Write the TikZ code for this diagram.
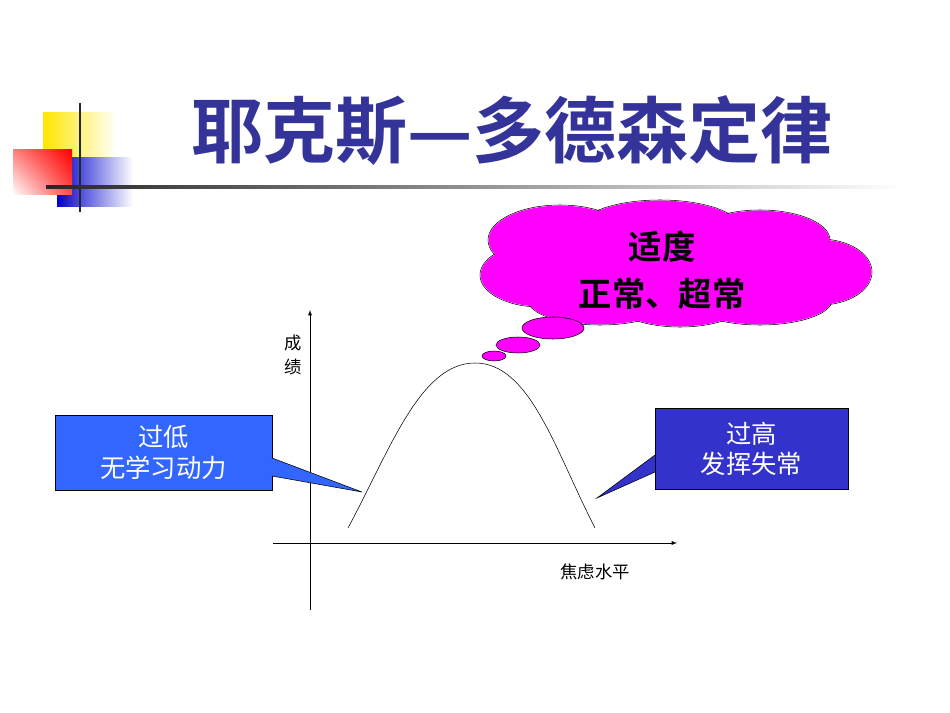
\documentclass[tikz,border=0pt]{standalone}
\usepackage{fontspec}
\usetikzlibrary{shadings}
\newfontfamily\cjk{Noto Sans CJK SC}
\newfontfamily\cjkb{Noto Sans CJK SC Bold}
\definecolor{mag}{RGB}{255,0,255}
\definecolor{titleblue}{RGB}{51,51,153}
\definecolor{lowblue}{RGB}{51,102,255}
\definecolor{highblue}{RGB}{51,51,204}
\begin{document}
\begin{tikzpicture}[x=0.75pt,y=-0.75pt,
  lbl/.style={font=\cjk\fontsize{13}{15}\selectfont},
  box/.style={draw=black,line width=0.5pt,align=center,text=white,font=\cjk\fontsize{19}{23}\selectfont,inner sep=0pt},
  cl/.style={fill=mag}]
\useasboundingbox[fill=white] (0,0) rectangle (950,713);
% decoration
\shade[left color=yellow!80!orange,right color=white] (43,113) rectangle (117,160);
\shade[left color=blue!80!black,right color=white] (57,158) rectangle (133,207);
\shade[lower left=white,upper right=red,lower right=red!70,upper left=red!50] (13,150) rectangle (72,195);
\draw[line width=2pt,black!85] (80,103) -- (80,212);
\shade[left color=black!85,right color=white] (46,185.5) rectangle (905,188.5);
\node[font=\cjkb\fontsize{54}{58}\selectfont,text=titleblue] (title) at (512,131) {耶克斯—多德森定律};
% axes
\coordinate (yb) at (310,610); \coordinate (yt) at (310,310);
\coordinate (xl) at (273,543); \coordinate (xr) at (677,543);
\draw[-latex] (yb) -- (yt);
\draw[-latex] (xl) -- (xr);
\node[lbl] (cj) at (293,343) {成};
\node[lbl] (ji) at (293,367) {绩};
\node[lbl] (xa) at (595,572) {焦虑水平};
% curve
\coordinate (c0) at (348,528); \coordinate (pk) at (475,363); \coordinate (c1) at (595,528);
\draw (c0) .. controls (390,450) and (420,363) .. (pk) .. controls (530,363) and (555,450) .. (c1);
% cloud
\foreach \x/\y/\a/\b in {560/240/72/35,660/228/80/28,760/240/70/30,820/272/52/33,540/275/60/32,600/300/72/25,760/300/72/25,680/305/62/22}
  \draw (\x,\y) ellipse ({\a*0.75pt} and {\b*0.75pt});
\foreach \x/\y/\a/\b in {560/240/72/35,660/228/80/28,760/240/70/30,820/272/52/33,540/275/60/32,600/300/72/25,760/300/72/25,680/305/62/22,670/265/150/40}
  \fill[mag] (\x,\y) ellipse ({\a*0.75pt-0.5pt} and {\b*0.75pt-0.5pt});
\node[font=\cjkb\fontsize{25}{29}\selectfont,align=center] (cloudtxt) at (662,270) {适度\\[6pt]正常、超常};
\draw[cl] (553,328) ellipse ({31*0.75pt} and {11*0.75pt});
\draw[cl] (518,345) ellipse ({22*0.75pt} and {8*0.75pt});
\draw[cl] (494,356) ellipse ({12*0.75pt} and {5*0.75pt});
% callouts
\node[box,fill=lowblue,minimum width=163pt,minimum height=56pt] (low) at (163.5,452.5) {过低\\无学习动力};
\node[box,fill=highblue,minimum width=145pt,minimum height=61pt] (high) at (751.5,449) {过高\\发挥失常};
\coordinate (lp) at (362,492); \coordinate (hp) at (597,498);
\fill[lowblue] (272,458) -- (lp) -- (272,476) -- cycle;
\draw (272,458) -- (lp) -- (272,476);
\fill[highblue] (655,455) -- (hp) -- (655,472) -- cycle;
\draw (655,455) -- (hp) -- (655,472);
\end{tikzpicture}
\end{document}
